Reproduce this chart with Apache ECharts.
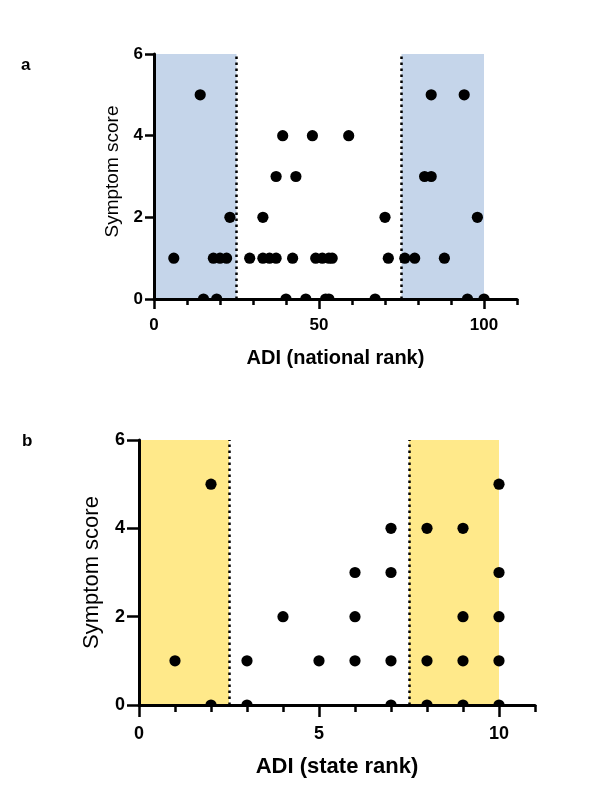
<!DOCTYPE html>
<html>
<head>
<meta charset="utf-8">
<script src="https://cdn.jsdelivr.net/npm/echarts@6/dist/echarts.min.js"></script>
<style>
  html, body { margin: 0; padding: 0; background: #fff; }
  #chart { width: 606px; height: 787px; }
</style>
</head>
<body>
<div id="chart"></div>
<script>
// panel a: ADI national rank vs symptom score
const nationalX = [14, 84, 94,
                   39, 48, 59,
                   37, 43, 82, 84,
                   23, 33, 70, 98,
                   6, 18, 20, 22, 29, 33, 35, 37, 42, 49, 51, 53, 54, 71, 76, 79, 88,
                   15, 19, 40, 46, 52, 53, 67, 95, 100];
const nationalY = [5, 5, 5,
                   4, 4, 4,
                   3, 3, 3, 3,
                   2, 2, 2, 2,
                   1, 1, 1, 1, 1, 1, 1, 1, 1, 1, 1, 1, 1, 1, 1, 1, 1,
                   0, 0, 0, 0, 0, 0, 0, 0, 0];

// panel b: ADI state rank vs symptom score
const stateX = [1, 2, 2, 3, 3, 4, 5, 6, 6, 6, 7, 7, 7, 7, 8, 8, 8, 9, 9, 9, 9, 10, 10, 10, 10, 10];
const stateY = [1, 5, 0, 1, 0, 2, 1, 3, 2, 1, 4, 3, 1, 0, 4, 1, 0, 4, 2, 1, 0, 5, 3, 2, 1, 0];

// shaded quartile bands and cut lines
const nationalBands = [[0, 25], [75, 100]];
const nationalCuts = [25, 75];
const stateBands = [[0, 2.5], [7.5, 10]];
const stateCuts = [2.5, 7.5];

// axis ranges and tick steps: [axis max, minor step, labelled max, labelled step]
const nationalTicks = [110, 10, 100, 50];
const stateTicks = [11, 1, 10, 5];
const scoreTicks = [6, 2];

const FONT = 'Liberation Sans, Arial, sans-serif';

const chart = echarts.init(document.getElementById('chart'), null, { renderer: 'canvas' });

function toPairs(xs, ys) {
    return xs.map(function (x, i) { return [x, ys[i]]; });
}

function renderDot(params, api) {
    const p = api.coord([api.value(0), api.value(1)]);
    return {
        type: 'circle',
        shape: { cx: p[0], cy: p[1], r: 5.6 },
        style: { fill: '#000' }
    };
}

// short ticks along the full axis, with the axis line and the axis title
function minorAxis(grid, ticks, name, gap, size, tickLen) {
    return {
        type: 'value', gridIndex: grid, position: 'bottom', min: 0, max: ticks[0], interval: ticks[1], z: 5,
        name: name, nameLocation: 'middle', nameGap: gap,
        nameTextStyle: { fontFamily: FONT, fontSize: size, fontWeight: 'bold', color: '#000' },
        axisLine: { show: true, lineStyle: { color: '#000', width: 3 } },
        axisTick: { show: true, length: tickLen, lineStyle: { color: '#000', width: 2.5 } },
        axisLabel: { show: false },
        splitLine: { show: false }
    };
}

// long labelled ticks, on a grid that covers only the labelled range
function majorAxis(grid, ticks, tickLen, labelSize) {
    return {
        type: 'value', gridIndex: grid, position: 'bottom', min: 0, max: ticks[2], interval: ticks[3], z: 5,
        axisLine: { show: false },
        axisTick: { show: true, length: tickLen, lineStyle: { color: '#000', width: 2.5 } },
        axisLabel: { margin: tickLen + 8, fontFamily: FONT, fontSize: labelSize, fontWeight: 'bold', color: '#000' },
        splitLine: { show: false }
    };
}

function scoreAxis(grid, gap, size, shift, tickLen, labelSize) {
    return {
        type: 'value', gridIndex: grid, min: 0, max: scoreTicks[0], interval: scoreTicks[1], z: 5,
        name: 'Symptom score', nameLocation: 'middle', nameGap: gap,
        nameTextStyle: { fontFamily: FONT, fontSize: size, color: '#000', padding: [0, 0, 0, shift] },
        axisLine: { show: true, lineStyle: { color: '#000', width: 3 } },
        axisTick: { show: true, length: tickLen, lineStyle: { color: '#000', width: 2.5 } },
        axisLabel: { margin: tickLen + 2, fontFamily: FONT, fontSize: labelSize, fontWeight: 'bold', color: '#000' },
        splitLine: { show: false }
    };
}

function hiddenAxis(grid) {
    return { type: 'value', gridIndex: grid, min: 0, max: 1, show: false };
}

function dotSeries(xIdx, yIdx, data, bands, cuts, shade) {
    return {
        type: 'custom',
        xAxisIndex: xIdx,
        yAxisIndex: yIdx,
        clip: true,
        renderItem: renderDot,
        data: data,
        markArea: {
            silent: true,
            itemStyle: { color: shade, opacity: 1 },
            data: bands.map(function (b) { return [{ xAxis: b[0] }, { xAxis: b[1] }]; })
        },
        markLine: {
            silent: true,
            symbol: ['none', 'none'],
            label: { show: false },
            lineStyle: { color: '#000', width: 2.5, type: [2.5, 3.5], opacity: 1 },
            data: cuts.map(function (c) { return { xAxis: c }; })
        }
    };
}

const gridA = { left: 154, top: 54, width: 363, height: 245 };
const gridB = { left: 139, top: 440, width: 396, height: 265 };

const option = {
    animation: false,
    backgroundColor: '#fff',
    title: [
        { text: 'a', left: 21, top: 57, padding: 0, textStyle: { fontFamily: FONT, fontSize: 17, fontWeight: 'bold', color: '#000' } },
        { text: 'b', left: 22, top: 433, padding: 0, textStyle: { fontFamily: FONT, fontSize: 17, fontWeight: 'bold', color: '#000' } }
    ],
    grid: [
        gridA,
        gridB,
        { left: gridA.left, top: gridA.top, height: gridA.height, width: gridA.width * nationalTicks[2] / nationalTicks[0] },
        { left: gridB.left, top: gridB.top, height: gridB.height, width: gridB.width * stateTicks[2] / stateTicks[0] }
    ],
    xAxis: [
        minorAxis(0, nationalTicks, 'ADI (national rank)', 49, 20, 6),
        minorAxis(1, stateTicks, 'ADI (state rank)', 51, 22, 7),
        majorAxis(2, nationalTicks, 10, 17),
        majorAxis(3, stateTicks, 12, 18)
    ],
    yAxis: [
        scoreAxis(0, 31, 19, 10, 9, 17),
        scoreAxis(1, 36, 22, 0, 12, 18),
        hiddenAxis(2),
        hiddenAxis(3)
    ],
    series: [
        dotSeries(0, 0, toPairs(nationalX, nationalY), nationalBands, nationalCuts, '#c5d5ea'),
        dotSeries(1, 1, toPairs(stateX, stateY), stateBands, stateCuts, '#ffe98a')
    ]
};

chart.setOption(option);
</script>
</body>
</html>
